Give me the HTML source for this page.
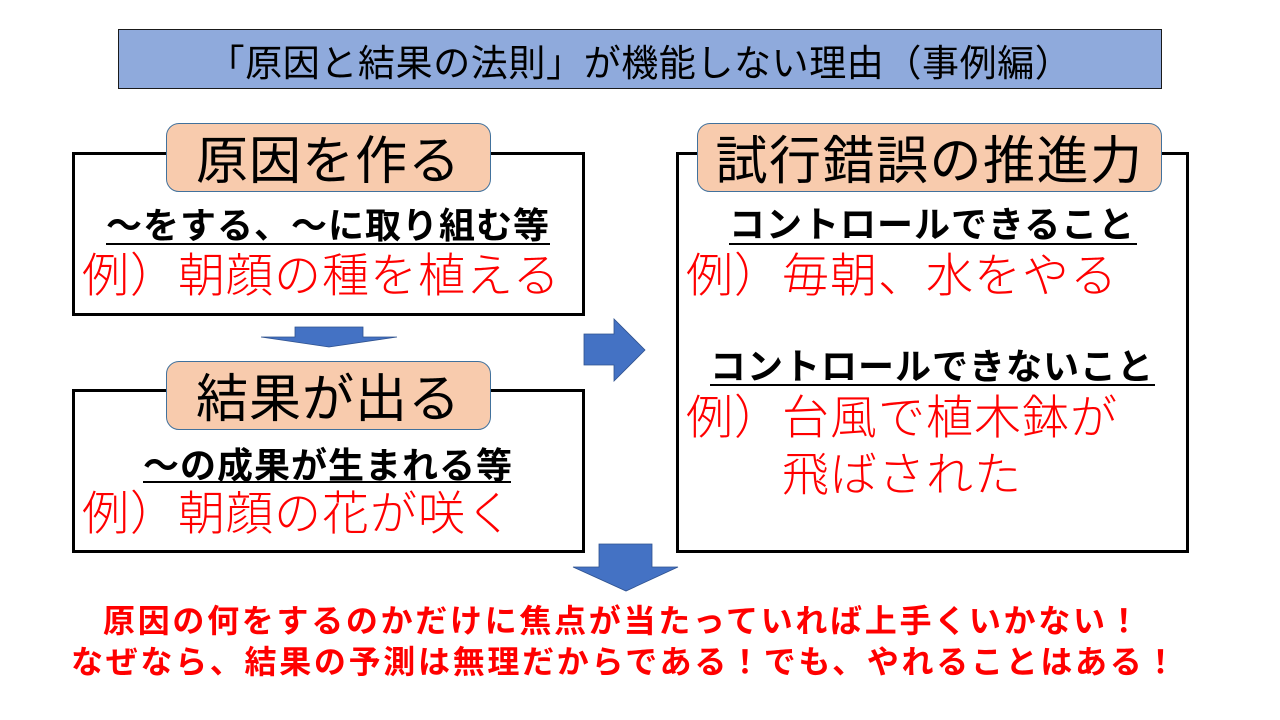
<!DOCTYPE html>
<html>
<head>
<meta charset="utf-8">
<style>
  html, body { margin:0; padding:0; }
  body { width:1280px; height:720px; background:#ffffff; position:relative; overflow:hidden;
         font-family:"Liberation Sans","Noto Sans CJK JP",sans-serif; }
  .abs { position:absolute; white-space:nowrap; }
  .box { position:absolute; box-sizing:border-box; border:3px solid #000; background:#fff; }
  .label { position:absolute; box-sizing:border-box; background:#f8cbad; border:1.3px solid #41719c;
           border-radius:13px; text-align:center; font-size:52px; line-height:52px; color:#000;
           letter-spacing:1px; font-weight:400; }
  .label span { position:absolute; left:0; right:0; top:12px; }
  .sub { position:absolute; white-space:nowrap; font-size:36px; line-height:36px; font-weight:700;
         letter-spacing:1px; color:#000; }
  .uline { position:absolute; height:2px; background:#000; }
  .red { position:absolute; white-space:nowrap; font-size:47px; line-height:47px; color:#ff0000;
         font-weight:300; letter-spacing:1px; }
  .bottom { position:absolute; white-space:nowrap; font-size:32px; line-height:32px; color:#ff0000;
            font-weight:700; letter-spacing:2.7px; }
</style>
</head>
<body>

<!-- Title -->
<div class="abs" style="left:118px;top:29px;width:1044px;height:60px;box-sizing:border-box;background:#8faadc;border:1.5px solid #1a1a1a;"></div>
<div class="abs" style="left:118px;top:45px;width:1044px;text-align:center;font-size:37px;line-height:37px;letter-spacing:0.6px;color:#000;">「原因と結果の法則」が機能しない理由（事例編）</div>

<!-- Left box 1 -->
<div class="box" style="left:72px;top:152px;width:513px;height:164px;"></div>
<div class="label" style="left:166px;top:123px;width:325px;height:69px;"><span>原因を作る</span></div>
<div class="sub" style="left:106px;top:208px;">～をする、～に取り組む等</div>
<div class="uline" style="left:106px;top:243px;width:444px;"></div>
<div class="red" style="left:82px;top:252px;">例）朝顔の種を植える</div>

<!-- Left box 2 -->
<div class="box" style="left:72px;top:389px;width:513px;height:164px;"></div>
<div class="label" style="left:166px;top:361px;width:325px;height:69px;"><span>結果が出る</span></div>
<div class="sub" style="left:143px;top:448px;">～の成果が生まれる等</div>
<div class="uline" style="left:143px;top:481px;width:368px;"></div>
<div class="red" style="left:82px;top:490px;">例）朝顔の花が咲く</div>

<!-- Right box -->
<div class="box" style="left:676px;top:152px;width:513px;height:401px;"></div>
<div class="label" style="left:697px;top:123px;width:465px;height:69px;letter-spacing:1.5px;"><span>試行錯誤の推進力</span></div>
<div class="sub" style="left:729px;top:207px;">コントロールできること</div>
<div class="uline" style="left:729px;top:243px;width:408px;"></div>
<div class="red" style="left:686px;top:252px;">例）毎朝、水をやる</div>
<div class="sub" style="left:710px;top:349px;">コントロールできないこと</div>
<div class="uline" style="left:710px;top:384px;width:445px;"></div>
<div class="red" style="left:686px;top:394px;">例）台風で植木鉢が</div>
<div class="red" style="left:782px;top:451px;">飛ばされた</div>

<!-- Arrows -->
<svg class="abs" style="left:0;top:0;" width="1280" height="720" viewBox="0 0 1280 720">
  <polygon points="295,327 363,327 363,337 397,337 329,347 261,337 295,337" fill="#4472c4" stroke="#2f528f" stroke-width="0.8"/>
  <polygon points="584,334 614,334 614,319 645,350 614,381 614,365 584,365" fill="#4472c4" stroke="#2f528f" stroke-width="0.8"/>
  <polygon points="599,544 652,544 652,567 678,567 626,591 573,567 599,567" fill="#4472c4" stroke="#2f528f" stroke-width="0.8"/>
</svg>

<!-- Bottom text -->
<div class="bottom" style="left:103px;top:605px;">原因の何をするのかだけに焦点が当たっていれば上手くいかない！</div>
<div class="bottom" style="left:71px;top:646px;">なぜなら、結果の予測は無理だからである！でも、やれることはある！</div>

</body>
</html>
